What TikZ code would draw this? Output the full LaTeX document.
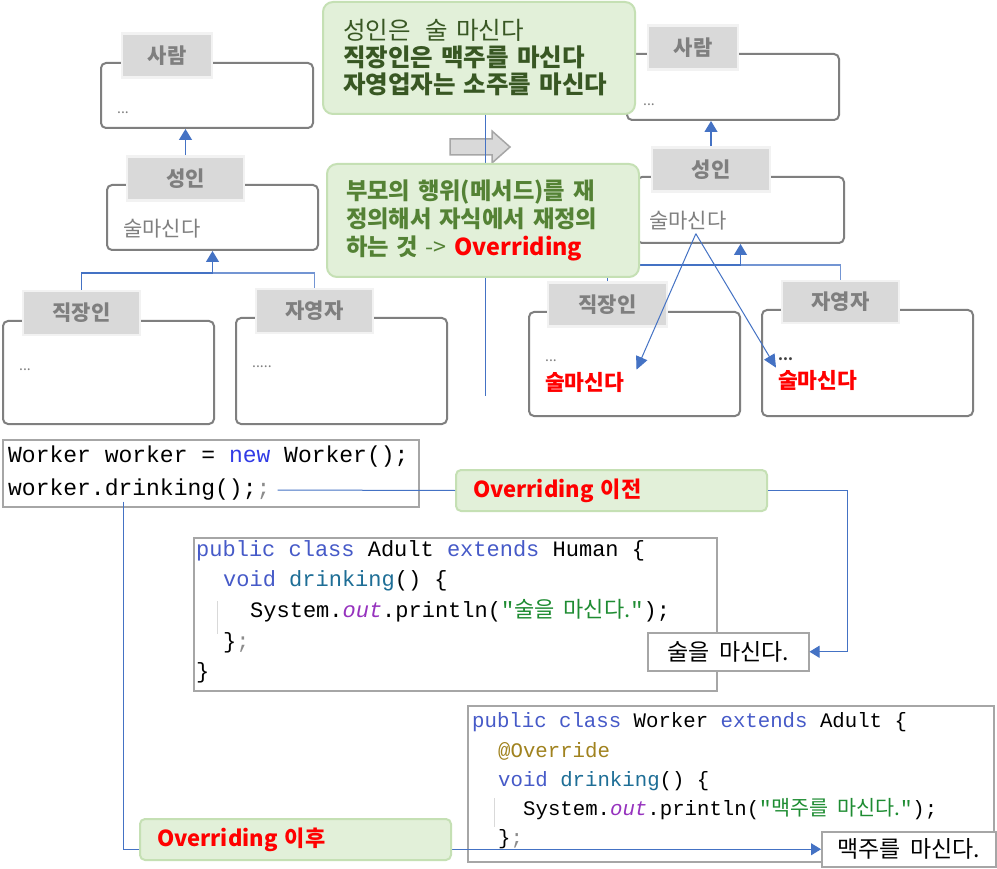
\documentclass[tikz,border=0pt]{standalone}
\usepackage{fontspec}
\setmainfont[WordSpace=1.6]{Noto Sans CJK KR}
\newfontfamily\krfont[WordSpace=1.8]{Noto Sans CJK KR}
\setmonofont{Liberation Mono}
\usetikzlibrary{arrows.meta, calc}
\definecolor{boxgray}{RGB}{127,127,127}
\definecolor{tabfill}{RGB}{217,217,217}
\definecolor{tabline}{RGB}{242,242,242}
\definecolor{linkblue}{RGB}{68,114,196}
\definecolor{notefill}{RGB}{226,240,217}
\definecolor{noteline}{RGB}{197,224,180}
\definecolor{notedark}{RGB}{56,87,35}
\definecolor{notegreen}{RGB}{84,130,53}
\definecolor{arrfill}{RGB}{217,217,217}
\definecolor{arrline}{RGB}{166,166,166}
\definecolor{codeline}{RGB}{166,166,166}
\definecolor{kwblue}{RGB}{70,90,200}
\definecolor{newblue}{RGB}{50,60,230}
\definecolor{mthteal}{RGB}{30,110,150}
\definecolor{outpurple}{RGB}{150,50,190}
\definecolor{strgreen}{RGB}{30,140,50}
\definecolor{annolive}{RGB}{160,130,30}
\definecolor{semigray}{RGB}{140,140,140}

\begin{document}
\begin{tikzpicture}[
    x=1pt, y=-1pt,
    classbox/.style={
      draw=boxgray, line width=2pt, rounded corners=5pt,
      fill=white, anchor=north west, inner sep=0pt
    },
    tab/.style={
      fill=tabfill, draw=tabline, line width=2.5pt,
      minimum width=117, minimum height=44, inner sep=0pt,
      text=boxgray, font=\fontsize{21}{24}\selectfont\bfseries
    },
    dots/.style={
      anchor=west, inner sep=0pt, text=boxgray,
      font=\fontsize{14}{16}\selectfont
    },
    method/.style={
      anchor=west, inner sep=0pt, text=boxgray,
      font=\fontsize{21}{24}\selectfont
    },
    redmethod/.style={
      anchor=west, inner sep=2pt, text=red,
      font=\fontsize{21.5}{24}\selectfont\bfseries
    },
    inh/.style={draw=linkblue, line width=1.2pt},
    inhtip/.style={inh, -{Triangle[width=13pt,length=11pt]}},
    overtip/.style={draw=linkblue, line width=1pt, -{Triangle[width=12pt,length=13pt]}},
    note/.style={
      fill=notefill, draw=noteline, line width=2pt, rounded corners=10pt,
      anchor=north west, align=left
    },
    tag/.style={
      fill=notefill, draw=noteline, line width=2pt, rounded corners=5pt,
      anchor=north west, align=left, text width=277, inner xsep=17pt,
      minimum height=41, text=red, font=\fontsize{22}{26}\selectfont\bfseries
    },
    blockarr/.style={fill=arrfill, draw=arrline, line width=1.5pt},
    codebox/.style={draw=codeline, line width=1.5pt, fill=white, anchor=north west, inner sep=0pt},
    codeline/.style={anchor=west, inner sep=0pt, text height=16pt, text depth=5pt},
    codeA/.style={codeline, font=\ttfamily\fontsize{23}{26}\selectfont},
    codeB/.style={codeline, font=\ttfamily\fontsize{22}{26}\selectfont},
    codeC/.style={codeline, font=\ttfamily\fontsize{20.7}{24}\selectfont},
    guide/.style={draw=tabfill, line width=1pt},
    result/.style={
      draw=codeline, line width=1.5pt, fill=white, anchor=north west,
      inner sep=0pt, font=\krfont\fontsize{23}{26}\selectfont
    },
    call/.style={draw=linkblue, line width=1pt},
    calltip/.style={call, -{Triangle[width=12pt,length=10pt]}}
  ]

  \useasboundingbox[fill=white] (0,0) rectangle (997,869);

  % ---- Left hierarchy (before) ----
  \node[classbox, minimum width=212, minimum height=65] (Lhuman) at (100,62) {};
  \node[tab, minimum width=90] (Lhumantab) at (167,55.5) {사람};
  \node[dots] (Lhumantxt) at (117,113) {...};

  \node[classbox, minimum width=211, minimum height=65] (Ladult) at (106,184) {};
  \node[tab] (Ladulttab) at (185.5,178.5) {성인};
  \node[method] (Ladulttxt) at (123,229) {술마신다};

  \node[classbox, minimum width=211, minimum height=103] (Lwork) at (2,320) {};
  \node[tab] (Lworktab) at (81.5,313) {직장인};
  \node[dots] (Lworktxt) at (19,370) {...};

  \node[classbox, minimum width=211, minimum height=106] (Lself) at (235,317) {};
  \node[tab] (Lselftab) at (314.5,311) {자영자};
  \node[dots] (Lselftxt) at (252,367) {.....};

  \coordinate (Ljoin) at ($(Ladult.south)+(0,22)$);
  \draw[inh] (Lworktab.north) |- (Ljoin);
  \draw[inh, draw=linkblue!75] (Lselftab.north) |- (Ljoin);
  \draw[inhtip] (Ljoin) -- (Ladult.south);
  \draw[inhtip] (Ladulttab.north) -- (Ladulttab.north |- Lhuman.south);

  % ---- Right hierarchy (after) ----
  \node[classbox, minimum width=212, minimum height=66] (Rhuman) at (626,53) {};
  \node[tab, minimum width=90] (Rhumantab) at (693,47.5) {사람};
  \node[dots] (Rhumantxt) at (643,105) {...};

  \node[classbox, minimum width=207, minimum height=66] (Radult) at (636,176) {};
  \node[tab, minimum width=118] (Radulttab) at (711,169.5) {성인};
  \node[method] (Radulttxt) at (649,221) {술마신다};

  \node[classbox, minimum width=211, minimum height=104] (Rwork) at (528,311) {};
  \node[tab, minimum width=119] (Rworktab) at (607.5,304.5) {직장인};
  \node[dots] (Rworktxt) at (545,361) {...};
  \node[redmethod] (Rworkred) at (543,382) {술마신다};

  \node[classbox, minimum width=211, minimum height=106] (Rself) at (761,309) {};
  \node[tab, minimum height=42] (Rselftab) at (840.5,302) {자영자};
  \node[dots, text=black!75, font=\fontsize{14}{16}\selectfont\bfseries] (Rselftxt) at (778,359) {...};
  \node[redmethod] (Rselfred) at (776,380) {술마신다};

  \coordinate (Rjoin) at ($(Radult.south)+(0,21)$);
  \draw[inh] (Rworktab.north) |- (Rjoin);
  \draw[inh, draw=linkblue!75] (Rselftab.north) |- (Rjoin);
  \draw[inhtip] (Rjoin) -- (Radult.south);
  \draw[inhtip] (Radulttab.north) -- (Radulttab.north |- Rhuman.south);

  % ---- Overridden method arrows ----
  \draw[overtip] ($(Radulttxt.south)+(8,3)$) -- ($(Rworkred.north east)+(10,0)$);
  \draw[overtip] ($(Radulttxt.south)+(8,3)$) -- (Rselfred.north west);

  % ---- Notes in the middle ----
  \node[note, text width=272, inner xsep=20pt, minimum height=112,
        text=notedark, font=\fontsize{24.5}{27}\selectfont] (note1) at (322,1)
    {성인은\hspace{0.6em}술 마신다\\\textbf{직장인은 맥주를 마신다}\\\textbf{자영업자는 소주를 마신다}};

  \draw[blockarr] (450,139) -- (492,139) -- (492,131) -- (510,147)
    -- (492,163) -- (492,155) -- (450,155) -- cycle;

  \draw[inh, line width=1pt] (note1.south -| 485,0) -- (485,396);

  \node[note, text width=274, inner xsep=19pt, minimum height=113,
        text=notegreen, font=\fontsize{23.3}{28}\selectfont\bfseries] (note2) at (326,163)
    {부모의 행위(메서드)를 재\\정의해서 자식에서 재정의\\하는 것 {\mdseries ->} \textcolor{red}{Overriding}};

  % ---- Calling code ----
  \node[codebox, minimum width=416, minimum height=67] (code1) at (2,439) {};
  \node[codeA] (code1a) at (8,457) {Worker worker = {\color{newblue}new} Worker();};
  \node[codeA] (code1b) at (8,490) {worker.drinking();{\color{semigray};}};

  % ---- Adult class ----
  \node[codebox, minimum width=523, minimum height=153] (adultcode) at (193,537) {};
  \draw[guide] (217.5,601) -- (217.5,634);
  \node[codeB] (adult1) at (196,551) {{\color{kwblue}public class} Adult {\color{kwblue}extends} Human \{};
  \node[codeB] (adult2) at (223,581) {{\color{kwblue}void} {\color{mthteal}drinking}() \{};
  \node[codeB] (adult3) at (250,612) {System.{\color{outpurple}\itshape out}.println({\color{strgreen}"{\krfont 술을 마신다.}"});};
  \node[codeB] (adult4) at (223,643) {\}{\color{semigray};}};
  \node[codeB] (adult5) at (196,673) {\}};
  \node[result, minimum width=161, minimum height=38] (resA) at (647,632) {술을 마신다.};

  % ---- Worker class ----
  \node[codebox, minimum width=526, minimum height=156] (workercode) at (467,705) {};
  \draw[guide] (494,798) -- (494,827);
  \node[codeC] (worker1) at (472,722) {{\color{kwblue}public class} Worker {\color{kwblue}extends} Adult \{};
  \node[codeC] (worker2) at (498,752) {{\color{annolive}@Override}};
  \node[codeC] (worker3) at (498,781) {{\color{kwblue}void} {\color{mthteal}drinking}() \{};
  \node[codeC] (worker4) at (523,810) {System.{\color{outpurple}\itshape out}.println({\color{strgreen}"{\krfont 맥주를 마신다.}"});};
  \node[codeC] (worker5) at (498,839) {\}{\color{semigray};}};
  \node[result, minimum width=174, minimum height=35] (resB) at (821,831) {맥주를 마신다.};

  % ---- Call links ----
  \node[tag] (before) at (455,469) {Overriding 이전};
  \draw[call, shorten <=7pt] (code1b.east) -- (before.west);
  \draw[calltip] (before.east) -- ++(79,0) |- (resA.east);
  \draw[calltip] (code1b.south west) ++(115,1) |- (resB.west);
  \node[tag] (after) at (139,818) {Overriding 이후};

\end{tikzpicture}
\end{document}
